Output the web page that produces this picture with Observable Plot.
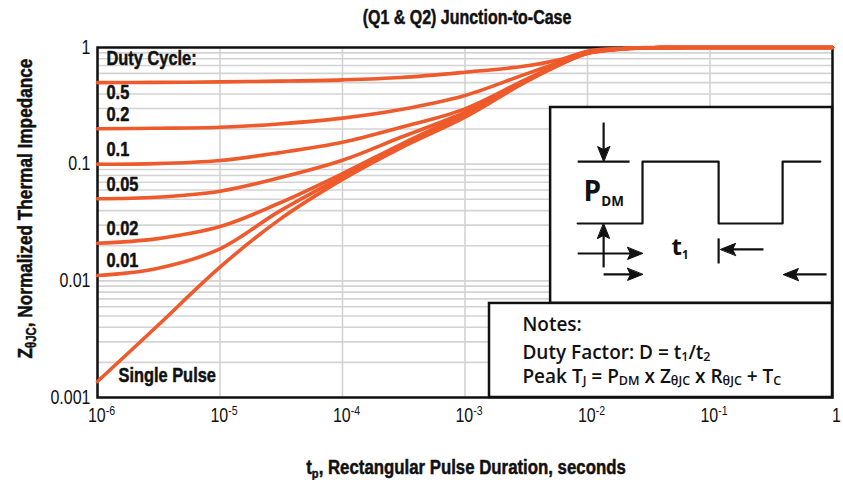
<!DOCTYPE html>
<html>
<head>
<meta charset="utf-8">
<script src="https://cdn.jsdelivr.net/npm/d3@7"></script>
<script src="https://cdn.jsdelivr.net/npm/@observablehq/plot@0.6"></script>
<style>
  body { margin: 0; background: #fff; }
  #chart svg { background: #fff; }
</style>
</head>
<body>
<div id="chart"></div>
<script>
// Pulse durations (s) at which the impedance curves are sampled
const durations = [1e-6, 3e-6, 1e-5, 3e-5, 1e-4, 3e-4, 1e-3, 3e-3, 6e-3, 1e-2, 2e-2, 4e-2, 1e-1, 1];

// Normalized junction-to-case thermal impedance, one array per duty cycle
const zDuty050 = [0.500, 0.502, 0.507, 0.515, 0.528, 0.553, 0.614, 0.690, 0.790, 0.930, 0.985, 0.998, 1, 1];
const zDuty020 = [0.201, 0.203, 0.207, 0.221, 0.248, 0.294, 0.388, 0.583, 0.750, 0.910, 0.980, 0.997, 1, 1];
const zDuty010 = [0.100, 0.101, 0.1075, 0.125, 0.154, 0.207, 0.298, 0.520, 0.730, 0.900, 0.978, 0.997, 1, 1];
const zDuty005 = [0.0505, 0.052, 0.0587, 0.076, 0.108, 0.170, 0.279, 0.510, 0.725, 0.898, 0.977, 0.997, 1, 1];
const zDuty002 = [0.021, 0.0229, 0.0292, 0.046, 0.083, 0.148, 0.272, 0.505, 0.722, 0.896, 0.976, 0.997, 1, 1];
const zDuty001 = [0.0111, 0.0127, 0.0188, 0.039, 0.078, 0.142, 0.264, 0.500, 0.720, 0.895, 0.976, 0.997, 1, 1];
const zSingle  = [0.00137, 0.0040, 0.0131, 0.033, 0.074, 0.138, 0.253, 0.495, 0.715, 0.890, 0.975, 0.997, 1, 1];

const curveNames = ["0.5", "0.2", "0.1", "0.05", "0.02", "0.01", "Single Pulse"];
const curveValues = [zDuty050, zDuty020, zDuty010, zDuty005, zDuty002, zDuty001, zSingle];

// Axis ticks and labels (^{..} = superscript, _{..} = subscript)
const xTickValues = [1e-6, 1e-5, 1e-4, 1e-3, 1e-2, 1e-1, 1];
const xTickLabels = ["10^{-6}", "10^{-5}", "10^{-4}", "10^{-3}", "10^{-2}", "10^{-1}", "1"];
const yTickValues = [0.001, 0.01, 0.1, 1];
const yTickLabels = ["0.001", "0.01", "0.1", "1"];

const chartTitle = "(Q1 & Q2) Junction-to-Case";
const xTitle = "t_{p}, Rectangular Pulse Duration, seconds";
const yTitle = "Z_{θJC}, Normalized Thermal Impedance";
const legendTitle = "Duty Cycle:";
const noteLines = ["Notes:", "Duty Factor: D = t_{1}/t_{2}", "Peak T_{J} = P_{DM} x Z_{θJC} x R_{θJC} + T_{C}"];

// ---- derived tables ----
const rows = curveNames.flatMap((name, i) => durations.map((t, j) => ({name, t, z: curveValues[i][j]})));
const starts = curveNames.map((name, i) => ({name, t: durations[0], z: curveValues[i][0]}));
const yGrid = d3.range(-3, 0).flatMap(e => d3.range(1, 10).map(m => +(m * 10 ** e).toPrecision(3))).concat([1]);
const xTickMap = new Map(xTickValues.map((v, i) => [v, xTickLabels[i]]));
const yTickMap = new Map(yTickValues.map((v, i) => [v, yTickLabels[i]]));

// ---- inset panels, placed in the chart's own (log) coordinates ----
const pulseBox = {x1: 5e-3, x2: 1, y1: 0.0064, y2: 0.306};
const notesBox = {x1: 1.585e-3, x2: 1, y1: 0.001, y2: 0.0064};
// u, v are fractions across / up a panel
function at(box, u, v) {
  const lx1 = Math.log10(box.x1), lx2 = Math.log10(box.x2);
  const ly1 = Math.log10(box.y1), ly2 = Math.log10(box.y2);
  return {x: 10 ** (lx1 + u * (lx2 - lx1)), y: 10 ** (ly1 + v * (ly2 - ly1))};
}
const P = (u, v) => at(pulseBox, u, v);
const waveform = [[0.096,0.408],[0.326,0.408],[0.326,0.724],[0.596,0.724],[0.596,0.408],[0.823,0.408],[0.823,0.724],[0.957,0.724]].map(([u, v]) => P(u, v));
const segs = [
  [[0.096,0.724],[0.280,0.724]],   // top reference level
  [[0.188,0.923],[0.188,0.740]],   // arrow down onto it
  [[0.188,0.184],[0.188,0.390]],   // arrow up onto low level
  [[0.096,0.255],[0.310,0.255]],   // t1 arrow from left
  [[0.596,0.332],[0.596,0.204]],   // t1 end tick
  [[0.755,0.276],[0.615,0.276]],   // t1 arrow from right
  [[0.188,0.148],[0.310,0.148]],   // t2 arrow from left
  [[0.979,0.148],[0.840,0.148]]    // t2 arrow from right
].map(([a, b]) => {const p = P(...a), q = P(...b); return {x1: p.x, y1: p.y, x2: q.x, y2: q.y};});
const heads = [
  {...P(0.188, 0.724), angle: 180},
  {...P(0.188, 0.408), angle: 0},
  {...P(0.326, 0.255), angle: 90},
  {...P(0.603, 0.276), angle: -90},
  {...P(0.326, 0.148), angle: 90},
  {...P(0.826, 0.148), angle: -90}
];
const arrowHead = {
  draw(context, l, r) {
    context.moveTo(0, -l);
    context.lineTo(r, 0);
    context.lineTo(0, -l * 0.2);
    context.lineTo(-r, 0);
    context.closePath();
  }
};
const pulseTexts = [{...P(0.117, 0.571), text: "P_{DM}"}, {...P(0.429, 0.289), text: "t_{1}"}];
const noteRows = noteLines.map((text, i) => ({...at(notesBox, 0.096, [0.777, 0.479, 0.218][i]), text}));

const NARROW = "'Liberation Sans', Arimo, Arial, sans-serif";
const WIDE = "'Open Sans', Lato, sans-serif";
const SQUEEZE = 0.82;   // horizontal condensing of the narrow face
const ORANGE = "#EE5A2B";
const INK = "#111";
// heavy condensed label style (a thin same-colour outline thickens the glyphs)
const heavy = {fontWeight: 700, fill: INK, stroke: INK, strokeWidth: 0.5, paintOrder: "stroke", className: "narrow"};

const plot = Plot.plot({
  width: 843,
  height: 480,
  marginTop: 47,
  marginRight: 11,
  marginBottom: 83,
  marginLeft: 97,
  style: {fontFamily: NARROW, background: "#fff", color: INK},
  x: {type: "log", domain: [1e-6, 1]},
  y: {type: "log", domain: [0.001, 1]},
  marks: [
    Plot.ruleY(yGrid, {stroke: "#d3d3d3", strokeWidth: 1.6}),
    Plot.ruleX(xTickValues, {stroke: "#d3d3d3", strokeWidth: 1.6}),
    Plot.axisX(xTickValues, {tickSize: 0, tickPadding: 11, fontSize: 19.5, dx: 4, tickFormat: d => xTickMap.get(d), label: null, className: "richn"}),
    Plot.axisY(yTickValues, {tickSize: 0, tickPadding: 7, fontSize: 19.5, tickFormat: d => yTickMap.get(d), label: null, className: "narrow"}),
    Plot.frame({stroke: INK, strokeWidth: 2.5}),
    // inset panels
    Plot.rect([pulseBox, notesBox], {x1: "x1", x2: "x2", y1: "y1", y2: "y2", fill: "#fff", stroke: INK, strokeWidth: 2.5}),
    Plot.line(waveform, {x: "x", y: "y", stroke: INK, strokeWidth: 2.2}),
    Plot.link(segs, {x1: "x1", y1: "y1", x2: "x2", y2: "y2", stroke: INK, strokeWidth: 2.2}),
    Plot.vector(heads, {x: "x", y: "y", rotate: "angle", anchor: "end", length: 15, r: 6, shape: arrowHead, fill: INK, stroke: INK, strokeWidth: 1}),
    Plot.text(pulseTexts.slice(0, 1), {x: "x", y: "y", text: "text", textAnchor: "start", lineAnchor: "middle", fontSize: 28, fontWeight: 700, fill: INK, fontFamily: WIDE, className: "richbig"}),
    Plot.text(pulseTexts.slice(1), {x: "x", y: "y", text: "text", textAnchor: "start", lineAnchor: "middle", fontSize: 24, fontWeight: 700, fill: INK, fontFamily: WIDE, className: "richbig"}),
    Plot.text(noteRows, {x: "x", y: "y", text: "text", textAnchor: "start", lineAnchor: "middle", fontSize: 19, fontWeight: 600, fill: INK, fontFamily: WIDE, className: "richw"}),
    // impedance curves
    Plot.line(rows, {x: "t", y: "z", z: "name", stroke: ORANGE, strokeWidth: 3.6, curve: "catmull-rom"}),
    // curve labels
    Plot.text(starts.filter(d => d.name === "0.5"), {x: "t", y: "z", text: "name", textAnchor: "start", lineAnchor: "middle", dx: 9, dy: 10, fontSize: 20, ...heavy}),
    Plot.text(starts.filter(d => d.name !== "0.5" && d.name !== "Single Pulse"), {x: "t", y: "z", text: "name", textAnchor: "start", lineAnchor: "middle", dx: 9, dy: -14.5, fontSize: 20, ...heavy}),
    Plot.text(starts.filter(d => d.name === "Single Pulse"), {x: "t", y: "z", text: "name", textAnchor: "start", lineAnchor: "middle", dx: 21, dy: -6, fontSize: 20, ...heavy}),
    Plot.text([legendTitle], {frameAnchor: "top-left", textAnchor: "start", lineAnchor: "middle", dx: 9, dy: 11.5, fontSize: 20, ...heavy}),
    // titles
    Plot.text([chartTitle], {frameAnchor: "top", textAnchor: "middle", lineAnchor: "middle", dx: 2, dy: -30, fontSize: 19.5, ...heavy}),
    Plot.text([xTitle], {frameAnchor: "bottom", textAnchor: "middle", lineAnchor: "middle", dx: 1, dy: 70, fontSize: 20.5, ...heavy, className: "richn"}),
    Plot.text([yTitle], {frameAnchor: "left", textAnchor: "middle", lineAnchor: "middle", rotate: -90, dx: -72, dy: -14, fontSize: 21, ...heavy, className: "richn"})
  ]
});

document.getElementById("chart").appendChild(plot);

// Turn _{..} and ^{..} markup into subscript / superscript tspans
function richText(el, subScale, subShift) {
  const src = el.textContent;
  if (!/[_^]\{/.test(src)) return;
  const fs = parseFloat(getComputedStyle(el).fontSize) || 16;
  const parts = src.split(/([_^]\{[^}]*\})/).filter(s => s);
  const sel = d3.select(el);
  sel.text(null);
  let shift = 0;
  for (const p of parts) {
    const kind = p.startsWith("_{") ? "sub" : p.startsWith("^{") ? "sup" : "text";
    const txt = kind === "text" ? p : p.slice(2, -1);
    const target = kind === "sub" ? fs * subShift : kind === "sup" ? -fs * 0.36 : 0;
    const ts = sel.append("tspan").text(txt);
    if (target - shift !== 0) ts.attr("dy", target - shift);
    if (kind !== "text") ts.attr("font-size", fs * subScale);
    shift = target;
  }
}
const svg = d3.select(plot);
svg.selectAll(".richn text").each(function() { richText(this, 0.66, 0.2); });
svg.selectAll(".richw text").each(function() { richText(this, 0.66, 0.12); });
svg.selectAll(".richbig text").each(function() { richText(this, 0.48, 0.2); });

// Condense the narrow-face texts horizontally about their own anchor point
svg.selectAll(".narrow text, .richn text").each(function() {
  const tr = this.getAttribute("transform") || "";
  const x = +this.getAttribute("x") || 0, y = +this.getAttribute("y") || 0;
  this.setAttribute("transform", `${tr} translate(${x},${y}) scale(${SQUEEZE},1) translate(${-x},${-y})`.trim());
});
</script>
</body>
</html>
